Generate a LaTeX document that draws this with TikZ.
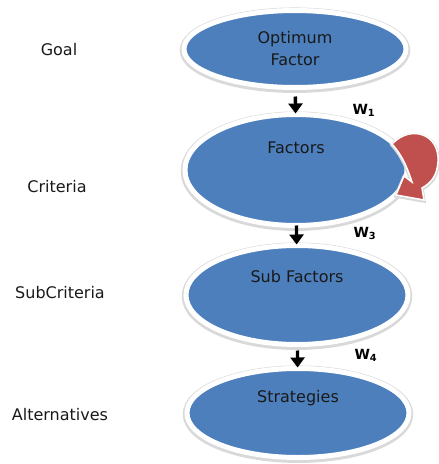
\documentclass[tikz,border=0pt]{standalone}
\usepackage{fontspec}
\setmainfont{DejaVu Sans}
\usetikzlibrary{shapes.geometric,arrows.meta}
\definecolor{levelblue}{RGB}{76,127,188}
\definecolor{loopred}{RGB}{192,80,77}
\tikzset{
	level/.style={ellipse,fill=levelblue,draw=white,line width=5pt,inner sep=0pt,outer sep=0pt,
		minimum width=222pt,
		preaction={draw=black!15,line width=8.5pt,transform canvas={yshift=-1.2pt}}},
	levelname/.style={font=\fontsize{16}{19}\selectfont,text=black!90},
	flow/.style={line width=3.4pt,-{Triangle[width=14pt,length=10pt]},shorten >=1pt},
	weight/.style={font=\fontsize{14}{16}\selectfont\bfseries,right=52pt}
}
\begin{document}
\begin{tikzpicture}[x=1pt,y=-1pt]
		\useasboundingbox (0,0) rectangle (439,464);
		\node[level,minimum height=77pt,label={[levelname,align=center]center:Optimum\\[3pt]Factor}] (optfac) at (295,49) {};
		\node[level,minimum height=111pt,label={[levelname,yshift=22pt]center:Factors}] (factors) at (296,170) {};
		\node[level,minimum height=99pt,label={[levelname,yshift=18pt]center:Sub Factors}] (subfac) at (297,295) {};
		\node[level,minimum height=89pt,label={[levelname,yshift=15pt]center:Strategies}] (strat) at (298,413) {};
		\node[levelname] (goal) at (59,50) {Goal};
		\node[levelname] (crit) at (57,187) {Criteria};
		\node[levelname] (subcrit) at (60,293) {SubCriteria};
		\node[levelname] (alt) at (60,415) {Alternatives};
		\draw[flow,shorten <=9pt] (optfac) --node[weight,pos=0.85]{W\textsubscript{1}} (factors);
		\draw[flow] (factors) --node[weight,pos=0.4]{W\textsubscript{3}} (subfac);
		\draw[flow,shorten <=6pt] (subfac) --node[weight,pos=0.45]{W\textsubscript{4}} (strat);
		% feedback loop on the criteria level
		\fill[loopred,draw=white,line width=1.5pt,shift={(factors.east)},
			preaction={draw=black!15,line width=3.5pt,transform canvas={yshift=-1pt}}]
			(-15,-26) .. controls (4,-46) and (33,-36) .. (31,-8)
			.. controls (30,6) and (24,13) .. (15,18) -- (17,30) -- (-11,25) -- (-3,6) -- (5,12)
			.. controls (1,0) and (-4,-14) .. (-15,-26) -- cycle;
	\end{tikzpicture}
\end{document}
